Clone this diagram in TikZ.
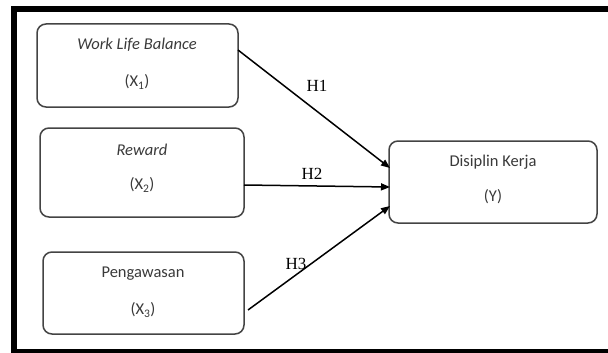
\documentclass[tikz,border=0pt]{standalone}
\usepackage{fontspec}
\setmainfont{Carlito}
\newfontfamily\serifH{Liberation Serif}
\usetikzlibrary{arrows.meta}
\definecolor{boxgray}{HTML}{444444}
\definecolor{txtgray}{HTML}{3A3A3A}
\tikzset{
  varbox/.style={draw=boxgray, line width=1.5pt, rounded corners=9pt, fill=white},
  boxtext/.style={text=txtgray, font=\fontsize{16.5}{18}\selectfont, inner sep=0pt},
  hyp/.style={font=\serifH\fontsize{17}{19}\selectfont, inner sep=0pt},
  conn/.style={line width=1.5pt, -{Triangle[length=9pt,width=7pt]}},
}
\begin{document}
\begin{tikzpicture}[x=1pt,y=-1pt]
\useasboundingbox (0,0) rectangle (608,353);
\fill[white] (0,0) rectangle (608,353);
\begin{scope}
\clip (0,0) rectangle (608,353);
\draw[line width=5.5pt] (14,9) rectangle (614,352);
\end{scope}
% boxes
\draw[varbox] (37,24) rectangle (238,107);
\draw[varbox] (40,128) rectangle (244,217);
\draw[varbox] (43,252) rectangle (244,334);
\draw[varbox] (389,141) rectangle (597,223);
% texts
\node[boxtext] (t1) at (137,45) {\itshape Work Life Balance};
\node[boxtext] (x1) at (137,82) {(X\textsubscript{1})};
\node[boxtext] (t2) at (142,150) {\itshape Reward};
\node[boxtext] (x2) at (142,185) {(X\textsubscript{2})};
\node[boxtext] (t3) at (143,274) {Pengawasan};
\node[boxtext] (x3) at (143,310) {(X\textsubscript{3})};
\node[boxtext] (ty) at (493,162) {Disiplin Kerja};
\node[boxtext] (xy) at (493,197) {(Y)};
% connector endpoints
\coordinate (s1) at (238,50);
\coordinate (e1) at (390,168);
\coordinate (s2) at (244,185);
\coordinate (e2) at (390,187);
\coordinate (s3) at (248,310);
\coordinate (e3) at (390,206);
\draw[conn] (s1) -- (e1);
\draw[conn] (s2) -- (e2);
\draw[conn] (s3) -- (e3);
\node[hyp] (h1) at (317,86) {H1};
\node[hyp] (h2) at (312,174) {H2};
\node[hyp] (h3) at (296,264) {H3};
\end{tikzpicture}
\end{document}
